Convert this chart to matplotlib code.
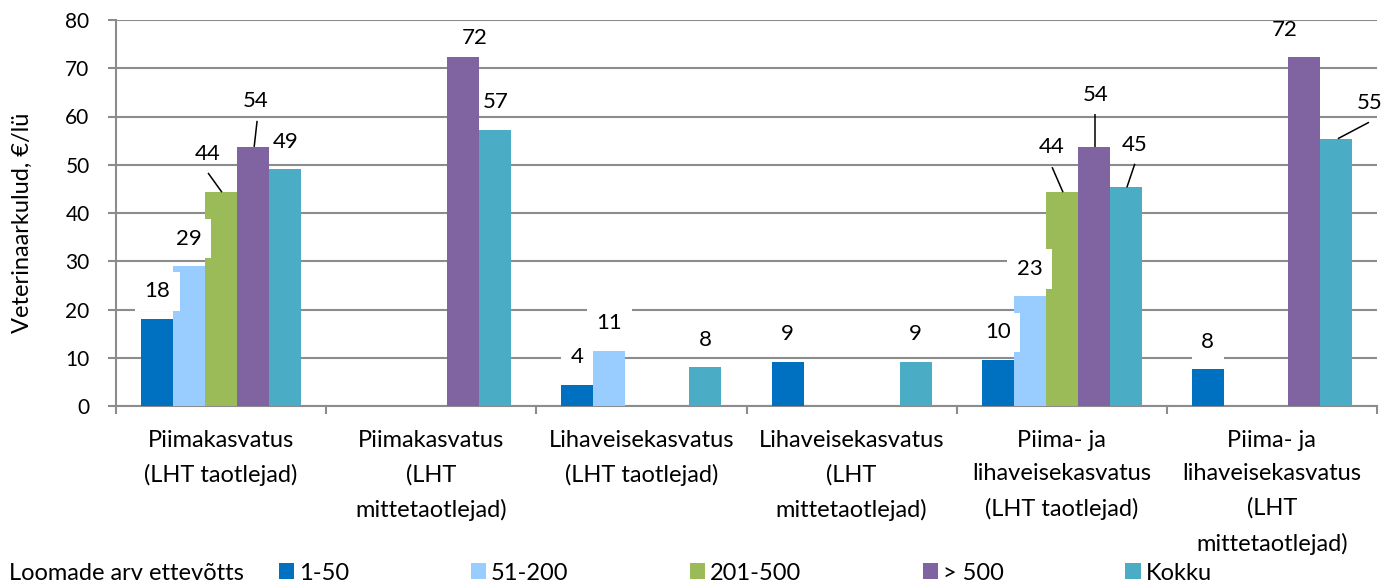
import numpy as np
import matplotlib
matplotlib.use("Agg")
import matplotlib.pyplot as plt
from matplotlib.patches import Patch

plt.rcParams['font.family'] = ['Lato', 'DejaVu Sans']

# ---------------- data ----------------
categories = [
    "Piimakasvatus\n(LHT taotlejad)",
    "Piimakasvatus\n(LHT\nmittetaotlejad)",
    "Lihaveisekasvatus\n(LHT taotlejad)",
    "Lihaveisekasvatus\n(LHT\nmittetaotlejad)",
    "Piima- ja\nlihaveisekasvatus\n(LHT taotlejad)",
    "Piima- ja\nlihaveisekasvatus\n(LHT\nmittetaotlejad)",
]
series_names = ["1-50", "51-200", "201-500", "> 500", "Kokku"]
nan = np.nan
v_1_50 = [18.1, nan, 4.4, 9.2, 9.6, 7.6]
v_51_200 = [29.0, nan, 11.4, nan, 22.7, nan]
v_201_500 = [44.3, nan, nan, nan, 44.3, nan]
v_over_500 = [53.7, 72.3, nan, nan, 53.7, 72.3]
v_kokku = [49.1, 57.3, 8.0, 9.2, 45.3, 55.4]
series_values = [v_1_50, v_51_200, v_201_500, v_over_500, v_kokku]
colors = ["#0070C0", "#99CCFF", "#9BBB59", "#8064A2", "#4BACC6"]
y_label = "Veterinaarkulud, €/lü"
legend_title = "Loomade arv ettevõtts"

# ---------------- styling (label placement) ----------------
default_offset = (0.0, 5.7)
label_offsets = {
    (0, 2): (-0.062, 7.9),
    (0, 3): (0.014, 9.5),
    (1, 3): (0.054, 3.9),
    (4, 2): (-0.049, 9.4),
    (4, 3): (0.009, 10.8),
    (4, 4): (0.044, 8.8),
    (5, 3): (-0.094, 5.7),
    (5, 4): (0.159, 7.5),
}
# leader lines: (start dx from label, start dy from label, end dx from bar centre)
leaders = {
    (0, 2): (0.0, -3.9, 0.004),
    (0, 3): (0.005, -4.1, 0.005),
    (4, 2): (0.003, -4.2, 0.006),
    (4, 3): (-0.003, -4.0, 0.006),
    (4, 4): (-0.001, -3.9, 0.005),
    (5, 4): (-0.002, -4.1, 0.009),
}
filled_label_series = {0, 1}   # labels drawn on a white background

W, H = 1397, 585
fig = plt.figure(figsize=(W / 100, H / 100), dpi=100)
ax = fig.add_axes([116 / W, 1 - 406 / H, (1377 - 116) / W, (406 - 20) / H])

grid_c = "#8C8C8C"
n = len(categories)
x = np.arange(n)
bw = 0.1524

for j, (vals, col) in enumerate(zip(series_values, colors)):
    xs = x + (j - 2) * bw
    ax.bar(xs, vals, width=bw, color=col, zorder=3, linewidth=0)

for j, vals in enumerate(series_values):
    for i, v in enumerate(vals):
        if np.isnan(v):
            continue
        bx = i + (j - 2) * bw
        dx, dy = label_offsets.get((i, j), default_offset)
        lx, ly = bx + dx, v + dy
        kw = {}
        if j in filled_label_series:
            kw["bbox"] = dict(boxstyle="square,pad=0.43", fc="white", ec="none")
        ax.text(lx, ly, f"{v:.0f}", ha="center", va="center", fontsize=16,
                color="black", zorder=6, **kw)
        if (i, j) in leaders:
            sdx, sdy, edx = leaders[(i, j)]
            ax.plot([lx + sdx, bx + edx], [ly + sdy, v], color="black",
                    lw=1.1, zorder=5, solid_capstyle="butt")

ax.set_xlim(-0.5, n - 0.5)
ax.set_ylim(0, 80)
ax.set_yticks(np.arange(0, 81, 10))
ax.yaxis.grid(True, color=grid_c, lw=1.5, zorder=0)
ax.set_axisbelow(True)

ax.set_xticks(x)
ax.set_xticklabels(categories, fontsize=17, linespacing=1.75)
ax.set_xticks(np.arange(-0.5, n, 1.0), minor=True)
ax.tick_params(axis="x", which="major", length=0, pad=17)
ax.tick_params(axis="x", which="minor", length=6, width=1.5, color=grid_c)
ax.tick_params(axis="y", length=6, width=1.5, color=grid_c, pad=13, labelsize=15)

for s in ["top", "right"]:
    ax.spines[s].set_visible(False)
for s in ["left", "bottom"]:
    ax.spines[s].set_color(grid_c)
    ax.spines[s].set_linewidth(1.5)

fig.text(22 / W, 1 - 223 / H, y_label, rotation=90, ha="center", va="center",
         fontsize=17)

fig.text(9 / W, 1 - 573 / H, legend_title, ha="left", va="center", fontsize=17)
handles = [Patch(facecolor=c, edgecolor="none") for c in colors]
fig.legend(handles, series_names, loc="center left",
           bbox_to_anchor=(279 / W, 1 - 573 / H), ncol=5, frameon=False,
           fontsize=17, handlelength=0.64, handleheight=0.64,
           handletextpad=0.21, columnspacing=5.15, borderpad=0,
           borderaxespad=0)

fig.savefig("out.png", dpi=100)
